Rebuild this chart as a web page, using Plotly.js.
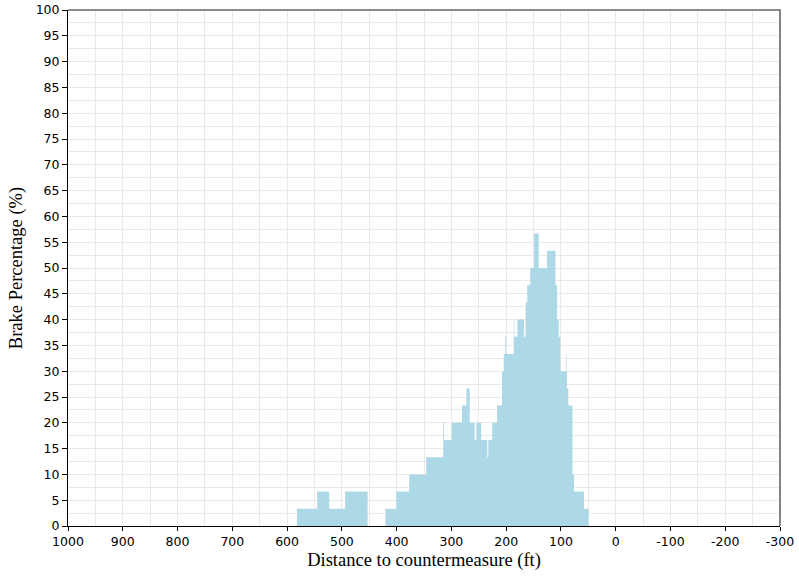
<!DOCTYPE html>
<html>
<head>
<meta charset="utf-8">
<script src="https://cdn.plot.ly/plotly-3.0.1.min.js"></script>
<style>
  html, body { margin: 0; padding: 0; background: #fff; }
  #chart { width: 799px; height: 578px; }
</style>
</head>
<body>
<div id="chart"></div>
<script>
// Distance to countermeasure (ft) where each brake level begins (step held until next point)
const distFt = [
  582, 545, 523, 494, 453, 420.5, 400.5, 377, 346, 315, 313.5, 299.5, 280.5, 272.5,
  266.5, 257.5, 254.5, 245.5, 234.5, 232.5, 225.5, 216.5, 207.5, 204.5, 201.5, 200,
  186, 185, 179.5, 167.5, 164.5, 161.5, 156, 149, 140.5, 125.5, 110, 107, 104, 101,
  90, 89, 86.5, 79, 76, 58, 49.5
];

// Brake percentage (%) for each step
const brakePct = [
  3.33, 6.67, 3.33, 6.67, 0, 3.33, 6.67, 10, 13.33, 20, 16.67, 20, 23.33, 26.67,
  20, 16.67, 20, 16.67, 13.33, 16.67, 20, 23.33, 30, 33.33, 36.67, 33.33,
  40, 36.67, 40, 36.67, 43.33, 46.67, 50, 56.67, 50, 53.33, 46.67, 40, 36.67, 30,
  33.33, 26.67, 23.33, 10, 6.67, 3.33, 0
];

// Axis ticks
const xTickVals = [1000, 900, 800, 700, 600, 500, 400, 300, 200, 100, 0, -100, -200, -300];
const xTickText = ["1000", "900", "800", "700", "600", "500", "400", "300", "200", "100", "0", "-100", "-200", "-300"];

const trace = {
  x: distFt,
  y: brakePct,
  type: 'scatter',
  mode: 'lines',
  line: { shape: 'hv', width: 0, color: '#ADD8E6' },
  fill: 'tozeroy',
  fillcolor: '#ADD8E6',
  hoverinfo: 'x+y'
};

const tickFont = { family: 'DejaVu Sans, Verdana, sans-serif', size: 12.5, color: '#000' };
const titleFont = { family: 'Liberation Serif, Times New Roman, serif', size: 18.5, color: '#000' };
const gridColor = '#e9e9e9';

const layout = {
  width: 799,
  height: 578,
  margin: { l: 68, r: 19, t: 10, b: 52 },
  paper_bgcolor: '#fff',
  plot_bgcolor: '#fff',
  showlegend: false,
  xaxis: {
    range: [1000, -300],
    autorange: false,
    tickmode: 'array',
    tickvals: xTickVals,
    ticktext: xTickText,
    ticks: 'outside',
    ticklen: 4,
    tickcolor: '#000',
    tickfont: tickFont,
    showline: true,
    linecolor: '#000',
    linewidth: 1,
    showgrid: true,
    gridcolor: gridColor,
    gridwidth: 1,
    minor: { dtick: 50, tick0: 0, showgrid: true, gridcolor: gridColor, gridwidth: 1, ticks: '' },
    zeroline: false,
    title: { text: 'Distance to countermeasure (ft)', font: titleFont, standoff: 5 }
  },
  yaxis: {
    range: [0, 100],
    autorange: false,
    dtick: 5,
    tick0: 0,
    ticks: 'outside',
    ticklen: 5,
    tickcolor: '#000',
    tickfont: tickFont,
    showline: true,
    linecolor: '#000',
    linewidth: 1,
    showgrid: true,
    gridcolor: gridColor,
    gridwidth: 1,
    minor: { dtick: 2.5, tick0: 0, showgrid: true, gridcolor: gridColor, gridwidth: 1, ticks: '' },
    zeroline: false,
    title: { text: 'Brake Percentage (%)', font: titleFont, standoff: 8 }
  },
  shapes: [
    {
      type: 'path',
      xref: 'paper', yref: 'paper',
      path: 'M 0 1 L 1 1 L 1 0',
      line: { color: '#666', width: 1.6 },
      layer: 'above'
    }
  ]
};

Plotly.newPlot('chart', [trace], layout, { displayModeBar: false, staticPlot: true });
</script>
</body>
</html>
